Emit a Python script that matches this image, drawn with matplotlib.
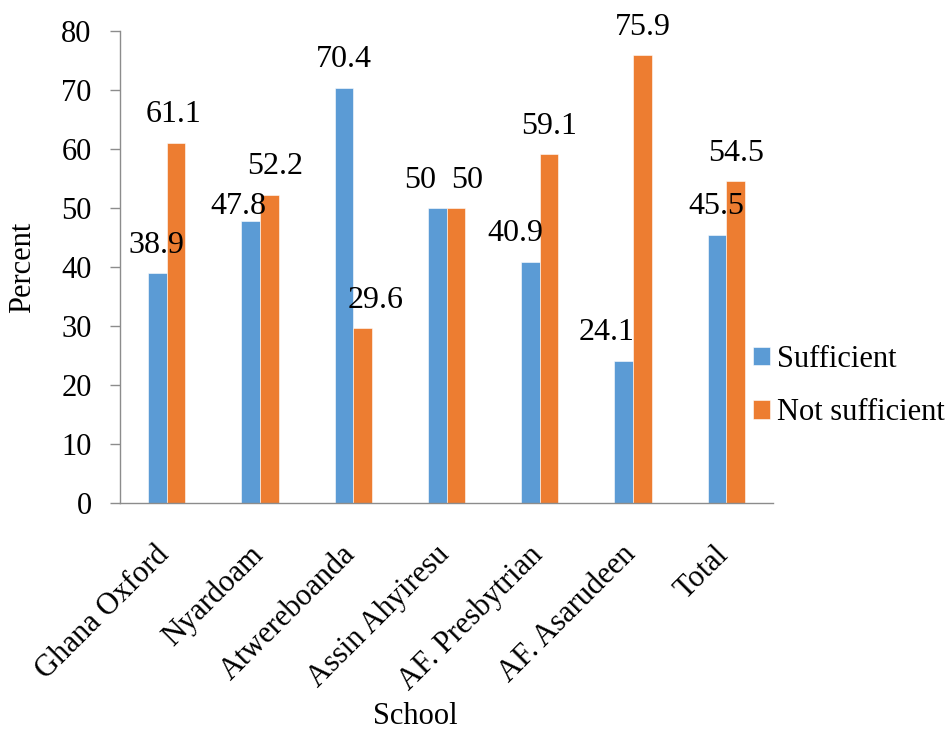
import numpy as np
import matplotlib
matplotlib.use('Agg')
import matplotlib.pyplot as plt
from matplotlib.transforms import ScaledTranslation

# chart data
schools = ['Ghana Oxford', 'Nyardoam', 'Atwereboanda', 'Assin Ahyiresu',
           'AF. Presbytrian', 'AF. Asarudeen', 'Total']
sufficient = [38.9, 47.8, 70.4, 50, 40.9, 24.1, 45.5]
not_sufficient = [61.1, 52.2, 29.6, 50, 59.1, 75.9, 54.5]
series_names = ['Sufficient', 'Not sufficient']

# label nudges (pixels), the way the original chart shifted them
suff_nudge = [(-1, 28), (-12, 14), (0, 28), (-17, 28), (-15, 28), (-17, 28), (-1, 28)]
not_nudge = [(-2, 28), (6, 29), (13, 28), (11, 28), (0, 28), (0, 28), (0, 28)]

plt.rcParams['font.family'] = ['Liberation Serif', 'DejaVu Serif']
plt.rcParams['font.size'] = 22

blue = '#5B9BD5'
orange = '#ED7D31'
grey = '#8C8C8C'

W, H = 951, 731
fig = plt.figure(figsize=(W / 100, H / 100), dpi=100)
ax = fig.add_axes([120 / W, 1 - 503 / H, 653 / W, 472 / H])

x = np.arange(len(schools))
bw = 0.2
b1 = ax.bar(x - bw / 2, sufficient, bw, color=blue, edgecolor='white',
            linewidth=0.4, label=series_names[0])
b2 = ax.bar(x + bw / 2, not_sufficient, bw, color=orange, edgecolor='white',
            linewidth=0.4, label=series_names[1])

for bars, vals, nudge in ((b1, sufficient, suff_nudge), (b2, not_sufficient, not_nudge)):
    for rect, v, (dx, dy) in zip(bars, vals, nudge):
        ax.annotate('{:g}'.format(v), (rect.get_x() + rect.get_width() / 2, v),
                    xytext=(dx, dy), textcoords='offset pixels',
                    ha='center', va='center', fontsize=23)

ax.set_xlim(-0.5, len(schools) - 0.5)
ax.set_ylim(0, 80)
ax.set_yticks(np.arange(0, 81, 10))
ax.set_xticks(x)
ax.set_xticklabels([])

# category labels drawn by hand so they can sit where the original had them
lab_tr = ax.get_xaxis_transform() + ScaledTranslation(-12 / 100, -37 / 100,
                                                      fig.dpi_scale_trans)
for xi, name in zip(x, schools):
    ax.text(xi, 0, name, transform=lab_tr, rotation=45, ha='right', va='top',
            rotation_mode='anchor', fontsize=22)

ax.tick_params(axis='x', length=0)
ax.tick_params(axis='y', length=7, width=1, color=grey, pad=13.5)

for s in ('top', 'right'):
    ax.spines[s].set_visible(False)
for s in ('left', 'bottom'):
    ax.spines[s].set_color(grey)
    ax.spines[s].set_linewidth(1)

ax.set_xlabel('School', va='center')
ax.xaxis.set_label_coords((415 - 120) / 653, (503 - 717) / 472)
ax.set_ylabel('Percent', va='center')
ax.yaxis.set_label_coords((23 - 120) / 653, 0.5)

fig.legend(loc='center left', bbox_to_anchor=(753 / W, 1 - 386 / H),
           frameon=False, borderpad=0, borderaxespad=0,
           handlelength=0.56, handleheight=0.56, handletextpad=0.23,
           labelspacing=0.8, fontsize=22)

fig.savefig('out.png', dpi=100)
